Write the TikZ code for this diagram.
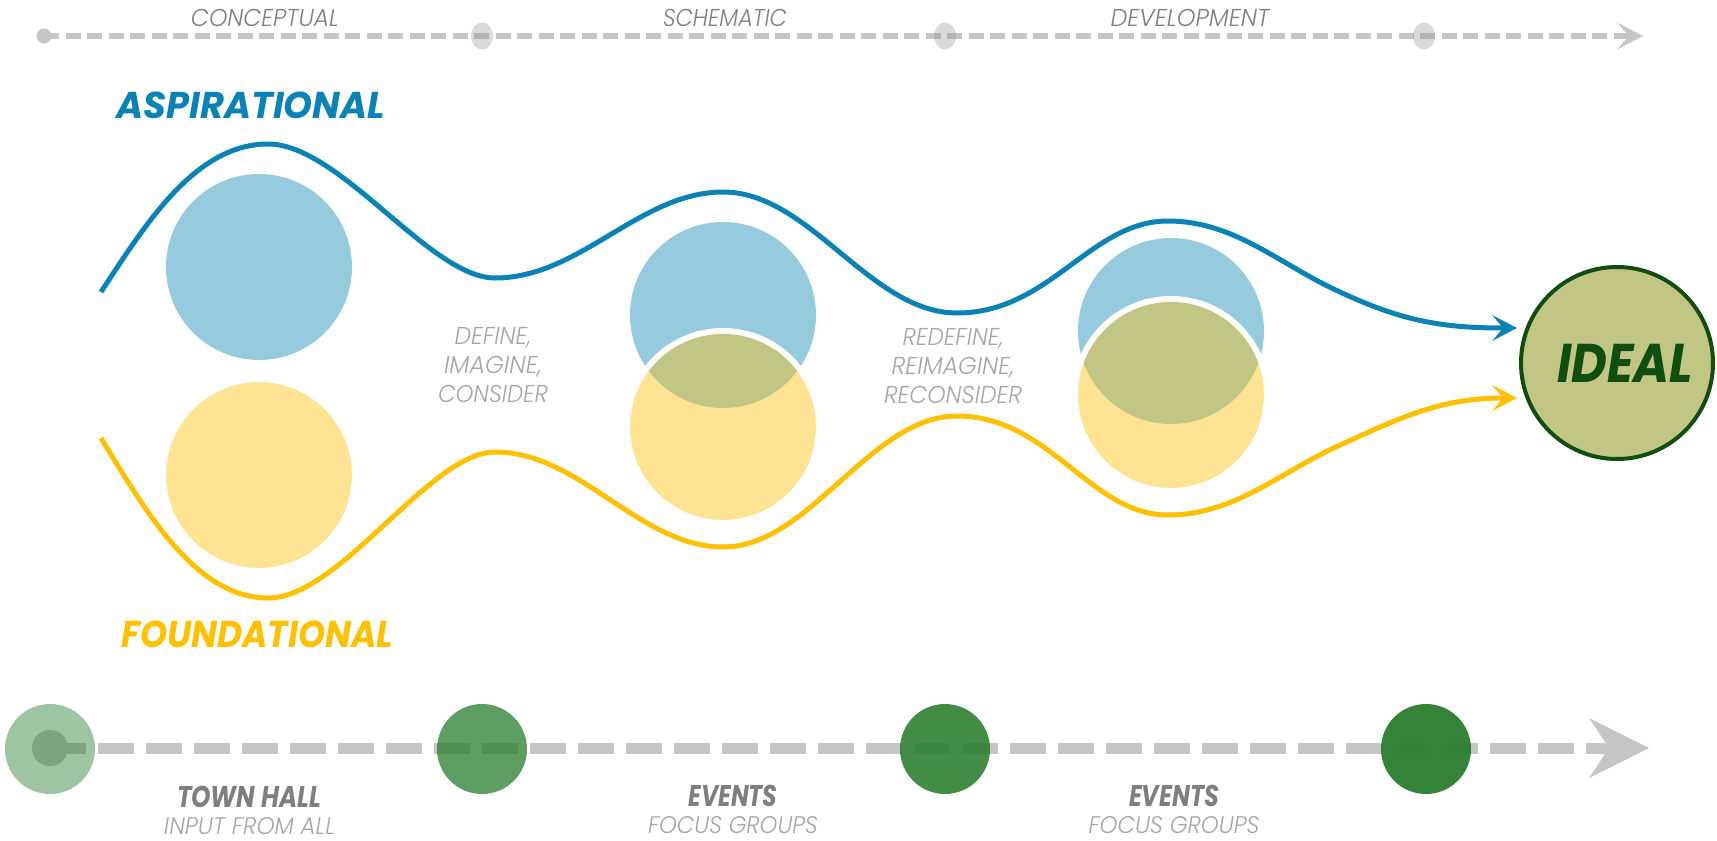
\documentclass[tikz,border=0pt]{standalone}
\usepackage{fontspec}
\usepackage{graphicx}
\setmainfont{Poppins}
\newfontfamily\plight{Poppins Light Italic}
\usetikzlibrary{arrows.meta,shapes.geometric}
\definecolor{aspblue}{HTML}{0A82B3}
\definecolor{fndyellow}{HTML}{FFC000}
\definecolor{bluefill}{HTML}{96CADD}
\definecolor{yellowfill}{HTML}{FEE393}
\definecolor{olivefill}{HTML}{C1C685}
\definecolor{idealgreen}{HTML}{124D10}
\definecolor{dashgray}{HTML}{C5C5C5}
\definecolor{dotgray}{HTML}{909090}
\definecolor{evgreen}{HTML}{2E7F32}
\definecolor{darktext}{HTML}{7F7F7F}
\definecolor{lighttext}{HTML}{A6A6A6}
\newcommand{\fitw}[2]{\resizebox{#1pt}{\height}{#2}}
\begin{document}
\begin{tikzpicture}[x=1pt,y=-1pt,
  lbl/.style={inner sep=0pt, outer sep=0pt, anchor=base},
  phase/.style={lbl, text=darktext, font=\plight\fontsize{24.4}{29}\selectfont},
  musing/.style={inner sep=0pt, anchor=north, align=center, text=lighttext, font=\plight\fontsize{24.4}{29}\selectfont},
  headline/.style={inner sep=0pt, anchor=base west, font=\bfseries\itshape\fontsize{37.3}{40}\selectfont},
  evtitle/.style={lbl, text=darktext, font=\bfseries\itshape\fontsize{30}{34}\selectfont},
  evsub/.style={lbl, text=lighttext, font=\plight\fontsize{24}{29}\selectfont},
  bluec/.style={circle, inner sep=0pt, minimum size=186pt, fill=bluefill},
  yellowc/.style={circle, inner sep=0pt, minimum size=192pt, fill=yellowfill, draw=white, line width=6pt},
  phasedot/.style={ellipse, inner sep=0pt, minimum width=22pt, minimum height=27pt, fill=dotgray, fill opacity=0.33},
  eventdot/.style={circle, inner sep=0pt, minimum size=90pt, fill=evgreen},
  topline/.style={dashgray, line width=6.5pt, dash pattern=on 15pt off 6.5pt, -{Stealth[length=26pt,width=27pt,inset=12pt,line width=0pt]}},
  bottomline/.style={dashgray, line width=11pt, dash pattern=on 36pt off 12pt, -{Stealth[length=60pt,width=60pt,inset=20pt,line width=0pt]}},
  wave/.style={line width=5pt, -{Stealth[length=25pt,width=26pt,inset=11pt,line width=0pt]}},
  ideal/.style={circle, inner sep=0pt, minimum size=192pt, fill=olivefill, draw=idealgreen, line width=4pt, text=idealgreen, font=\bfseries\itshape\fontsize{54.5}{60}\selectfont}
]
\useasboundingbox (0,0) rectangle (1717,841);

% ---- top phase timeline
\coordinate (tstart) at (44,36);
\coordinate (tend) at (1643,36);
\draw[topline] (tstart) -- (tend);
\node[circle, inner sep=0pt, minimum size=15pt, fill=dashgray] (t0) at (tstart) {};
\node[phasedot] (t1) at (482,36) {};
\node[phasedot] (t2) at (945,36) {};
\node[phasedot] (t3) at (1424,36) {};
\node[phase] (lconcept) at (265,26) {\fitw{148}{CONCEPTUAL}};
\node[phase] (lschem) at (725,26) {\fitw{124}{SCHEMATIC}};
\node[phase] (ldevel) at (1190,26) {\fitw{159}{DEVELOPMENT}};

% ---- headlines
\node[headline, text=aspblue] (asp) at (116,118) {\fitw{269}{ASPIRATIONAL}};
\node[headline, text=fndyellow] (fnd) at (121,647) {\fitw{272}{FOUNDATIONAL}};

% ---- circles
\node[bluec] (b1) at (259,267) {};
\node[yellowc] (y1) at (259,475) {};
\node[bluec] (b2) at (723,315) {};
\node[yellowc] (y2) at (723,427) {};
\begin{scope}
  \clip (b2.center) circle (93pt);
  \fill[olivefill] (y2.center) circle (93pt);
\end{scope}
\node[bluec] (b3) at (1171,331) {};
\node[yellowc] (y3) at (1171,395) {};
\begin{scope}
  \clip (b3.center) circle (93pt);
  \fill[olivefill] (y3.center) circle (93pt);
\end{scope}

% ---- middle texts
\node[musing] (m1) at (493,327.5) {\fitw{77}{DEFINE,}\\\fitw{98}{IMAGINE,}\\\fitw{110}{CONSIDER}};
\node[musing] (m2) at (953,328) {\fitw{101}{REDEFINE,}\\\fitw{123}{REIMAGINE,}\\\fitw{138}{RECONSIDER}};

% ---- ideal
\node[ideal] (ideal) at (1617,363) {\hspace*{16pt}\fitw{136}{IDEAL}};

% ---- waves
\coordinate (bluestart) at (101,292);
\coordinate (bluetip) at (1517,328);
\coordinate (yelstart) at (101,438);
\coordinate (yeltip) at (1517,398);
\draw[wave, aspblue] (bluestart) .. controls (145,225) and (195,144) .. (268,144)
  .. controls (340,144) and (430,278) .. (495,278)
  .. controls (580,278) and (640,192) .. (723,192)
  .. controls (810,192) and (870,313) .. (957,313)
  .. controls (1050,313) and (1090,221) .. (1168,221)
  .. controls (1235,221) and (1280,265) .. (1340,292)
  .. controls (1400,320) and (1440,328) .. (bluetip);
\draw[wave, fndyellow] (yelstart) .. controls (145,510) and (195,598) .. (268,598)
  .. controls (340,598) and (430,452) .. (495,452)
  .. controls (580,452) and (640,547) .. (723,547)
  .. controls (810,547) and (870,416) .. (957,416)
  .. controls (1050,416) and (1090,515) .. (1168,515)
  .. controls (1235,515) and (1280,472) .. (1340,445)
  .. controls (1400,418) and (1440,398) .. (yeltip);

% ---- bottom event timeline
\coordinate (bstart) at (50,748);
\coordinate (bend) at (1649,748);
\node[circle, inner sep=0pt, minimum size=36pt, fill=dashgray] (e0) at (bstart) {};
\draw[bottomline] (bstart) -- (bend);
\node[eventdot, fill opacity=0.46] (e1) at (50,749) {};
\node[eventdot, fill opacity=0.77] (e2) at (482,749) {};
\node[eventdot, fill opacity=0.90] (e3) at (945,749) {};
\node[eventdot, fill opacity=0.97] (e4) at (1426,749) {};

\node[evtitle] (th) at (249,807) {\fitw{144}{TOWN HALL}};
\node[evsub] (ths) at (249.5,834.5) {\fitw{171}{INPUT FROM ALL}};
\node[evtitle] (ev1) at (733,806) {\fitw{89}{EVENTS}};
\node[evsub] (ev1s) at (733,833.5) {\fitw{170}{FOCUS GROUPS}};
\node[evtitle] (ev2) at (1174,806) {\fitw{90}{EVENTS}};
\node[evsub] (ev2s) at (1174,833.5) {\fitw{171}{FOCUS GROUPS}};
\end{tikzpicture}
\end{document}
